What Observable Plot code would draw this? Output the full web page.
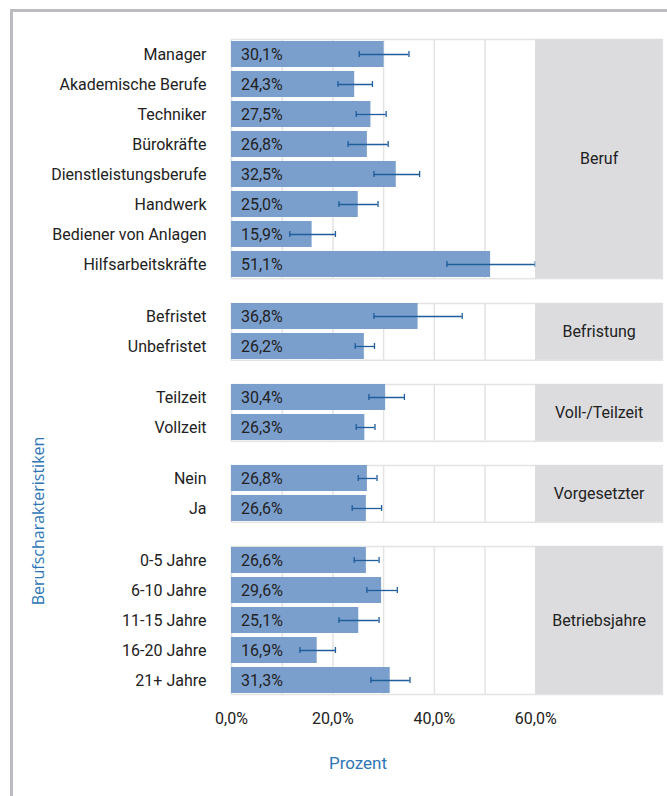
<!DOCTYPE html>
<html>
<head>
<meta charset="utf-8">
<script src="https://cdn.jsdelivr.net/npm/d3@7"></script>
<script src="https://cdn.jsdelivr.net/npm/@observablehq/plot@0.6"></script>
<style>
  html, body { margin: 0; padding: 0; background: #fff; }
  #chart { position: relative; width: 667px; height: 796px; overflow: hidden; background: #fff; font-family: Roboto, "DejaVu Sans", sans-serif; }
  #border { position: absolute; left: 10px; top: 9px; width: 700px; height: 800px; border-top: 3px solid #bcbcc0; border-left: 3px solid #bcbcc0; }
  .panel { position: absolute; left: 0; }
  .panel svg { display: block; }
  #ytitle { position: absolute; left: 38px; top: 521px; transform: translate(-50%, -50%) rotate(-90deg); white-space: nowrap; font-family: "Open Sans", sans-serif; font-size: 16px; color: #2e75b6; }
  #xtitle { position: absolute; left: 358px; top: 763px; transform: translate(-50%, -50%); white-space: nowrap; font-family: Roboto, sans-serif; font-size: 17px; color: #2e75b6; }
</style>
</head>
<body>
<div id="chart">
  <div id="border"></div>
  <div id="ytitle">Berufscharakteristiken</div>
  <div id="xtitle">Prozent</div>
</div>
<script>
// ---- data ----
const groups = ["Beruf", "Befristung", "Voll-/Teilzeit", "Vorgesetzter", "Betriebsjahre"];
const categories = ["Manager", "Akademische Berufe", "Techniker", "Bürokräfte", "Dienstleistungsberufe", "Handwerk", "Bediener von Anlagen", "Hilfsarbeitskräfte",
  "Befristet", "Unbefristet", "Teilzeit", "Vollzeit", "Nein", "Ja",
  "0-5 Jahre", "6-10 Jahre", "11-15 Jahre", "16-20 Jahre", "21+ Jahre"];
const groupIndex = [0, 0, 0, 0, 0, 0, 0, 0, 1, 1, 2, 2, 3, 3, 4, 4, 4, 4, 4];
const values = [30.1, 24.3, 27.5, 26.8, 32.5, 25.0, 15.9, 51.1, 36.8, 26.2, 30.4, 26.3, 26.8, 26.6, 26.6, 29.6, 25.1, 16.9, 31.3];
const lower  = [25.2, 21.0, 24.6, 23.0, 28.1, 21.2, 11.5, 42.5, 28.1, 24.4, 27.1, 24.6, 25.0, 23.8, 24.2, 26.7, 21.2, 13.5, 27.5];
const upper  = [35.0, 27.8, 30.5, 30.9, 37.1, 28.9, 20.5, 59.9, 45.5, 28.2, 34.1, 28.3, 28.7, 29.6, 29.1, 32.7, 29.1, 20.5, 35.2];
const xTicks = [0, 20, 40, 60];
const gridTicks = [0, 10, 20, 30, 40, 50, 60];

// ---- layout constants ----
const stripRange = [60, 85];
const step = 30.4, innerGap = 4, groupGap = 24.3, firstTop = 39;
const mt = 3, mbLast = 45, mb = 3;

const fmt = v => v.toFixed(1).replace(".", ",") + "%";
const rows = categories.map((c, i) => ({cat: c, group: groups[groupIndex[i]], value: values[i], lo: lower[i], hi: upper[i]}));

const chartDiv = document.getElementById("chart");
let panelTop = firstTop;
groups.forEach((g, gi) => {
  const data = rows.filter(r => r.group === g);
  const n = data.length;
  const last = gi === groups.length - 1;
  const innerH = n * step - innerGap;
  const mB = last ? mbLast : mb;
  const p = Plot.plot({
    width: 667,
    height: innerH + mt + mB,
    marginLeft: 231, marginRight: 5, marginTop: mt, marginBottom: mB,
    style: {fontFamily: "Roboto, sans-serif", fontSize: "16px", color: "#222", background: "transparent"},
    x: {domain: [0, stripRange[1]], ticks: xTicks, tickFormat: fmt, tickSize: 0, tickPadding: 18, axis: last ? "bottom" : null, label: null},
    y: {domain: data.map(d => d.cat), paddingInner: innerGap / step, paddingOuter: 0, tickSize: 0, tickPadding: 25, label: null},
    marks: [
      Plot.ruleX(gridTicks, {stroke: "#e3e3e3", strokeWidth: 1.5}),
      Plot.frame({stroke: "#e3e3e3", strokeWidth: 1.5}),
      Plot.barX(data, {x: "value", y: "cat", fill: "#7b9fcd"}),
      Plot.ruleY(data, {y: "cat", x1: "lo", x2: "hi", stroke: "#1f5d9b", strokeWidth: 1.3}),
      Plot.tickX(data, {x: "lo", y: "cat", stroke: "#1f5d9b", strokeWidth: 1.3, insetTop: 10, insetBottom: 10}),
      Plot.tickX(data, {x: "hi", y: "cat", stroke: "#1f5d9b", strokeWidth: 1.3, insetTop: 10, insetBottom: 10}),
      Plot.text(data, {x: 0, y: "cat", text: d => fmt(d.value), textAnchor: "start", dx: 9.5, fill: "#222", fontSize: 16}),
      Plot.barX([g], {x1: stripRange[0], x2: stripRange[1], fill: "#dcdcde"}),
      Plot.text([g], {x: (stripRange[0] + stripRange[1]) / 2, text: d => d, fill: "#222", fontSize: 16})
    ]
  });
  const wrap = document.createElement("div");
  wrap.className = "panel";
  wrap.style.top = (panelTop - mt) + "px";
  wrap.appendChild(p);
  chartDiv.appendChild(wrap);
  panelTop += innerH + groupGap;
});
</script>
</body>
</html>
